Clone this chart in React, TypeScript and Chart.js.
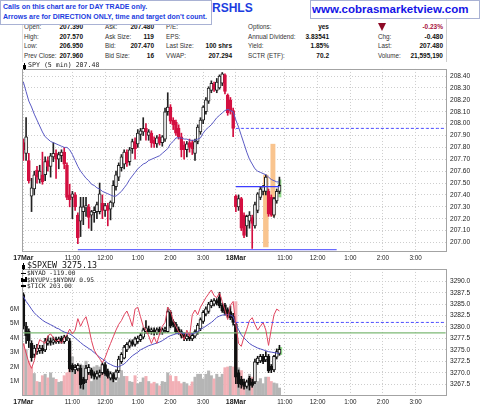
import React, { useEffect, useRef } from 'react';
import { Chart, registerables } from 'chart.js';

Chart.register(...registerables);

const SANS = '"Liberation Sans", Arial, Helvetica, sans-serif';
const MONO = '"DejaVu Sans Mono", "Liberation Mono", monospace';

// ---------- time axis (two sessions of 78 five-minute bars) ----------
const SESSION_BARS = 78;
const SLOT_COUNT = 156;
const SLOT_LABELS = Array.from({ length: SLOT_COUNT }, (_, i) => `${i < SESSION_BARS ? '17Mar' : '18Mar'} bar ${i % SESSION_BARS}`);
const TICK_INDEX = [0, 18, 30, 42, 54, 66, 78, 96, 108, 120, 132, 144];
const TICK_TEXT = ['17Mar', '11:00', '12:00', '1:00', '2:00', '3:00', '18Mar', '11:00', '12:00', '1:00', '2:00', '3:00'];
const DATE_TICK_INDEX = [0, 78];

// ---------- SPY 5 min ----------
const SPY_OPEN = [207.84,207.75,207.69,207.39,207.45,207.61,207.53,207.57,207.57,207.69,
207.64,207.72,207.75,207.70,207.73,207.76,207.65,207.40,207.38,207.40,
207.23,207.18,207.26,207.29,207.30,207.23,207.25,207.26,207.26,207.33,
207.27,207.31,207.28,207.33,207.47,207.55,207.63,207.66,207.76,207.68,
207.79,207.85,207.83,207.91,207.93,207.96,207.90,207.92,207.86,207.83,
207.89,207.84,207.87,208.10,208.14,208.03,208.01,207.96,207.89,207.82,
207.78,207.84,207.84,207.75,207.85,207.93,208.03,208.10,208.19,208.28,
208.33,208.28,208.30,208.34,208.41,208.24,208.20,208.11,207.39,207.30,
207.37,207.23,207.14,207.18,207.21,207.14,207.27,207.38,207.43,207.43,
207.43,207.38,207.23,207.35,207.43];
const SPY_HIGH = [207.87,208.05,207.75,207.54,207.60,207.64,207.65,207.76,207.72,207.72,
207.75,207.84,207.78,207.76,207.78,207.80,207.67,207.49,207.43,207.42,
207.25,207.38,207.38,207.38,207.32,207.27,207.30,207.34,207.50,207.40,
207.33,207.33,207.35,207.52,207.60,207.67,207.74,207.78,207.78,207.80,
207.87,207.88,207.95,207.96,208.05,208.00,207.95,207.94,207.89,207.90,
207.91,207.90,208.13,208.26,208.16,208.05,208.03,207.99,207.92,207.85,
207.85,207.87,207.86,207.87,207.99,208.05,208.15,208.22,208.31,208.36,
208.35,208.38,208.41,208.43,208.42,208.25,208.22,208.13,207.40,207.40,
207.38,207.25,207.23,207.26,207.23,207.34,207.42,207.47,207.48,207.57,
207.45,207.40,207.38,207.45,207.55];
const SPY_LOW = [207.69,207.69,207.50,207.26,207.40,207.50,207.50,207.49,207.52,207.60,
207.55,207.68,207.54,207.62,207.68,207.62,207.36,207.30,207.20,207.27,
206.99,207.05,207.15,207.22,207.12,207.10,207.17,207.20,207.24,207.20,
207.22,207.14,207.19,207.30,207.44,207.52,207.60,207.62,207.64,207.65,
207.75,207.70,207.80,207.86,207.90,207.86,207.86,207.80,207.80,207.80,
207.82,207.81,207.85,208.07,208.00,207.95,207.90,207.87,207.72,207.70,
207.72,207.76,207.74,207.69,207.83,207.91,208.00,208.08,208.17,208.26,
208.27,208.26,208.29,208.32,208.25,208.07,208.08,207.89,207.26,207.27,
207.10,207.04,207.05,207.12,206.95,207.12,207.25,207.36,207.40,207.40,
207.22,207.22,207.21,207.33,207.41];
const SPY_CLOSE = [207.78,207.89,207.52,207.46,207.57,207.55,207.60,207.51,207.68,207.64,
207.73,207.75,207.70,207.74,207.76,207.66,207.38,207.36,207.41,207.30,
207.04,207.30,207.30,207.31,207.21,207.26,207.27,207.32,207.41,207.27,
207.31,207.27,207.34,207.48,207.57,207.65,207.72,207.76,207.67,207.78,
207.85,207.79,207.92,207.94,207.96,207.93,207.93,207.84,207.83,207.88,
207.84,207.89,208.10,208.14,208.02,207.99,207.92,207.89,207.78,207.78,
207.83,207.80,207.79,207.85,207.97,208.03,208.14,208.20,208.30,208.34,
208.29,208.35,208.40,208.42,208.27,208.09,208.11,207.96,207.30,207.37,
207.12,207.06,207.22,207.23,207.16,207.32,207.41,207.45,207.47,207.55,
207.24,207.23,207.37,207.43,207.48];
const SPY_MA = [208.35,208.27,208.19,208.14,208.08,208.03,207.98,207.93,207.89,207.87,
207.85,207.84,207.83,207.82,207.81,207.80,207.80,207.78,207.74,207.69,
207.64,207.60,207.57,207.54,207.52,207.49,207.48,207.46,207.45,207.43,
207.42,207.41,207.40,207.39,207.39,207.41,207.43,207.46,207.49,207.53,
207.56,207.59,207.62,207.64,207.66,207.67,207.69,207.70,207.71,207.72,
207.73,207.75,207.77,207.79,207.83,207.85,207.88,207.88,207.88,207.87,
207.87,207.86,207.86,207.86,207.87,207.88,207.92,207.95,207.97,207.99,
208.02,208.05,208.07,208.09,208.11,208.12,208.11,208.10,208.03,207.97,
207.90,207.83,207.76,207.70,207.66,207.62,207.60,207.59,207.58,207.57,
207.55,207.53,207.52,207.51,207.51];
const SPY_TICKS = [207.0,207.1,207.2,207.3,207.4,207.5,207.6,207.7,207.8,207.9,208.0,208.1,208.2,208.3,208.4];
const SPY_MIN = 206.92;
const SPY_MAX = 208.46;
const SPY_PREV_CLOSE = 207.96;
const SPY_RESIST = 207.47;
const SPY_SUPPORT = 206.94;
const SPY_ORANGE_BOXES = [
  { from: 88, to: 90, high: 207.57, low: 206.96 },
  { from: 90.7, to: 92.5, high: 207.83, low: 207.22 },
];
const SPY_GREEN_BOXES = [{ from: 93.6, to: 94.7, high: 207.53, low: 207.38 }];

// ---------- lower panel ----------
const SPXEW_OPEN = [3287.1,3280.2,3279.1,3276.4,3274.0,3274.6,3274.8,3275.4,3275.0,3276.4,
3277.0,3276.6,3277.4,3276.8,3277.6,3276.8,3277.4,3277.0,3271.6,3270.6,
3270.8,3271.0,3268.6,3268.4,3270.0,3270.6,3269.8,3269.0,3269.4,3270.0,
3271.8,3270.4,3268.8,3269.6,3268.8,3270.4,3272.4,3273.2,3275.0,3275.8,
3276.8,3276.2,3276.8,3277.2,3277.8,3279.0,3279.6,3279.0,3279.4,3278.8,
3279.6,3278.8,3279.2,3279.0,3283.2,3281.2,3280.6,3279.6,3279.0,3278.2,
3277.4,3278.0,3277.4,3278.0,3278.8,3279.6,3281.2,3282.8,3283.4,3284.6,
3285.0,3285.8,3286.6,3284.8,3284.8,3283.8,3283.4,3282.4,3280.6,3270.0,
3268.6,3268.0,3267.0,3268.8,3268.0,3268.0,3272.2,3272.6,3273.6,3272.8,
3273.6,3271.4,3270.6,3273.4,3274.2];
const SPXEW_HIGH = [3287.5,3281.0,3279.6,3277.0,3276.0,3276.2,3276.0,3276.0,3277.5,3278.0,
3277.6,3277.8,3277.8,3277.8,3278.0,3278.2,3278.2,3277.5,3272.0,3271.8,
3272.0,3271.6,3269.0,3271.6,3271.8,3271.0,3270.2,3270.4,3270.6,3272.2,
3272.2,3270.8,3270.2,3270.0,3270.6,3273.6,3274.4,3276.0,3276.6,3277.2,
3277.2,3277.8,3278.0,3278.6,3279.8,3281.4,3280.2,3279.8,3279.8,3279.8,
3280.0,3279.8,3280.0,3284.2,3283.6,3281.6,3281.0,3280.0,3279.4,3278.8,
3278.4,3278.4,3278.6,3279.4,3280.8,3282.0,3283.6,3284.4,3285.4,3286.0,
3286.2,3286.2,3287.6,3285.2,3285.2,3284.2,3284.6,3283.0,3281.0,3270.6,
3269.2,3268.6,3268.4,3269.2,3268.6,3273.0,3273.6,3274.0,3274.0,3274.6,
3274.0,3271.8,3273.8,3275.2,3276.0];
const SPXEW_LOW = [3279.6,3276.4,3275.5,3272.5,3273.3,3274.0,3274.2,3274.2,3274.6,3276.0,
3276.0,3276.2,3276.4,3276.4,3276.4,3276.4,3277.0,3270.2,3270.2,3269.8,
3270.4,3266.6,3266.4,3267.8,3269.6,3268.8,3268.6,3268.6,3269.0,3269.6,
3269.4,3268.8,3268.4,3268.0,3268.4,3270.0,3272.0,3273.0,3274.6,3275.4,
3275.8,3275.8,3276.4,3276.8,3277.4,3278.6,3278.6,3278.4,3278.2,3278.4,
3278.4,3278.4,3278.8,3278.8,3279.8,3280.0,3278.6,3278.4,3277.6,3277.0,
3277.0,3277.0,3277.0,3277.6,3278.4,3279.2,3280.8,3282.4,3283.0,3284.2,
3284.6,3284.8,3284.2,3283.2,3282.6,3282.0,3281.6,3280.4,3267.6,3266.8,
3266.6,3266.4,3266.6,3266.2,3266.8,3267.6,3271.8,3272.2,3272.0,3272.4,
3270.0,3270.0,3270.2,3273.0,3273.8];
const SPXEW_CLOSE = [3280.2,3278.1,3277.0,3273.3,3275.4,3275.4,3275.4,3274.8,3277.0,3277.0,
3276.6,3277.2,3276.8,3277.4,3276.8,3277.8,3277.8,3270.8,3270.6,3271.2,
3271.6,3267.4,3267.6,3271.0,3271.2,3269.4,3269.2,3269.8,3270.0,3271.8,
3269.8,3269.2,3269.8,3268.6,3270.2,3273.0,3274.0,3275.6,3276.2,3276.8,
3276.2,3277.4,3277.6,3278.2,3279.4,3279.8,3279.0,3279.4,3278.8,3279.4,
3278.8,3279.4,3279.6,3283.4,3280.2,3280.4,3279.0,3278.8,3278.0,3277.6,
3278.0,3277.4,3278.2,3279.0,3280.4,3281.6,3283.2,3284.0,3285.0,3285.6,
3285.8,3285.2,3284.6,3283.6,3283.0,3282.4,3282.0,3281.0,3269.0,3267.6,
3267.4,3267.0,3268.0,3267.2,3267.2,3272.4,3273.2,3273.6,3272.4,3273.6,
3270.4,3270.6,3273.6,3274.6,3275.1];
const SPXEW_MA = [3286.7,3285.6,3284.8,3283.9,3283.1,3282.5,3282.0,3281.5,3281.1,3280.8,
3280.5,3280.2,3279.8,3279.6,3279.2,3278.9,3278.7,3278.5,3278.1,3277.6,
3277.1,3276.6,3276.1,3275.7,3275.3,3274.9,3274.4,3273.9,3273.4,3273.0,
3272.6,3272.1,3271.8,3271.5,3271.3,3271.3,3271.6,3271.9,3272.5,3273.1,
3273.7,3274.1,3274.5,3275.0,3275.3,3275.6,3275.9,3276.1,3276.3,3276.5,
3276.7,3277.0,3277.4,3277.8,3278.1,3278.3,3278.5,3278.6,3278.7,3278.6,
3278.5,3278.5,3278.5,3278.7,3279.0,3279.5,3279.8,3280.2,3280.6,3281.0,
3281.5,3282.1,3282.4,3282.6,3282.7,3282.7,3282.6,3282.3,3280.6,3279.4,
3278.3,3277.6,3277.0,3276.4,3276.0,3275.7,3275.4,3275.2,3275.0,3274.8,
3274.6,3274.5,3274.4,3274.3,3274.2];
const NYAD = [-459,-559,-659,-719,-639,-509,-419,-439,-459,-379,
-359,-399,-439,-419,-459,-399,-369,-309,-359,-319,
-199,-279,-219,-179,-289,-429,-529,-579,-619,-659,
-609,-529,-459,-389,-319,-259,-219,-159,-119,-189,
-279,-99,-79,-179,-279,-319,-379,-459,-389,-459,
-359,-279,-239,-79,-119,-219,-279,-339,-359,-419,
-319,-389,-159,-109,-159,-79,-29,21,61,101,
41,21,71,-19,-109,-209,-59,-19,-259,-459,
-489,-389,-309,-219,-189,-259,-319,-279,-239,-319,
-479,-309,-159,-99,-119];
const VOLUME_M = [3.6,3.2,2.4,2.0,1.55,1.0,0.95,1.4,1.5,1.25,
1.6,1.25,1.15,0.95,1.0,1.4,1.6,2.95,2.7,1.5,
2.0,2.2,2.1,2.4,1.6,1.0,2.0,2.1,2.0,2.2,
1.4,1.6,1.25,1.5,0.95,1.25,1.75,1.35,1.35,1.0,
0.95,1.4,0.85,0.95,1.25,1.35,1.0,0.85,0.95,0.85,
0.7,1.0,0.95,1.6,1.4,1.0,1.35,1.0,0.85,0.95,
0.85,0.7,0.97,1.3,1.5,1.5,1.18,1.5,1.73,1.4,
1.18,1.5,1.3,1.5,1.95,2.0,2.05,2.0,6.5,1.95,
1.75,1.0,0.95,1.5,1.3,0.97,1.0,1.2,0.85,1.3,
1.3,1.0,0.9,0.85,0.55];
const SPXEW_TICKS = [3267.5,3270.0,3272.5,3275.0,3277.5,3280.0,3282.5,3285.0,3287.5,3290.0];
const SPXEW_MIN = 3264.9;
const SPXEW_MAX = 3292.7;
const VOLUME_TICKS = [1, 2, 3, 4, 5, 6];
const VOLUME_MAX = 8.75;
const NYAD_MIN = -1009;
const NYAD_MAX = 321;
const SPXEW_PREV_CLOSE = 3281.0;
const SPXEW_LEVEL = 3278.7;
const SPXEW_GREEN_BOXES = [{ from: 93.6, to: 95, high: 3275.6, low: 3273.9 }];

// ---------- header ----------
const QUOTE_LABELS = [
  ['Open:', 'High:', 'Low:', 'Prev Close:'],
  ['Ask:', 'Ask Size:', 'Bid:', 'Bid Size:'],
  ['P/E:', 'EPS:', 'Last Size:', 'VWAP:'],
  ['Options:', 'Annual Dividend:', 'Yield:', 'SCTR (ETF):'],
  ['', 'Chg:', 'Last:', 'Volume:'],
];
const QUOTE_VALUES = [
  ['207.390', '207.570', '206.950', '207.960'],
  ['207.480', '119', '207.470', '16'],
  ['', '', '100 shrs', '207.294'],
  ['yes', '3.83541', '1.85%', '70.2'],
  ['-0.23%', '-0.480', '207.480', '21,595,190'],
];
const LOWER_LEGEND = ['$SPXEW 3275.13', '$NYAD -119.00', '$NYUPV:$NYDNV 0.95', '$TICK 203.00'];

// layout constants
const COL_LABEL_X = [24, 105, 166, 248, 378];
const COL_VALUE_RIGHT = [83, 154, 232, 329, 443];
const ROW_Y = [27, 36.5, 46, 55.8];

const segment = (value: number, from: number, to: number) =>
  Array.from({ length: SLOT_COUNT }, (_, i) => (i >= from && i <= to ? value : null));

function candleSets(open: number[], high: number[], low: number[], close: number[], yAxisID: string,
  upLine: string, downFill: string, downLine: string, order: number) {
  const up = (i: any) => close[i ?? 0] >= open[i ?? 0];
  return [
    {
      type: 'bar', label: 'body', yAxisID, xAxisID: 'x', grouped: false, order,
      barThickness: 3, borderWidth: 1, borderSkipped: false,
      data: open.map((o, i) => [Math.min(o, close[i]), Math.max(o, close[i])]),
      backgroundColor: (c: any) => (up(c.dataIndex) ? '#ffffff' : downFill),
      borderColor: (c: any) => (up(c.dataIndex) ? upLine : downLine),
    },
    {
      type: 'bar', label: 'wick', yAxisID, xAxisID: 'x', grouped: false, order: order + 1,
      barThickness: 1, borderWidth: 0,
      data: low.map((l, i) => [l, high[i]]),
      backgroundColor: (c: any) => (up(c.dataIndex) ? upLine : downLine),
    },
  ];
}

function timeAxis() {
  return {
    type: 'category', offset: true,
    grid: { color: '#cdcdcd', offset: false, drawTicks: false, lineWidth: 1 },
    border: { display: false, dash: [1, 2] },
    ticks: {
      autoSkip: false, maxRotation: 0, minRotation: 0, padding: 2, color: '#222',
      font: (c: any) => (c.tick && DATE_TICK_INDEX.includes(c.tick.value)
        ? { family: SANS, size: 7, weight: 'bold' } : { family: SANS, size: 6.3 }),
      callback: (v: any) => { const k = TICK_INDEX.indexOf(Number(v)); return k >= 0 ? TICK_TEXT[k] : ''; },
    },
    afterBuildTicks: (s: any) => { s.ticks = TICK_INDEX.map((v) => ({ value: v })); },
    afterFit: (s: any) => { s.height = 10; },
  };
}

function priceAxis(min: number, max: number, ticks: number[], digits: number) {
  return {
    position: 'right', min, max,
    grid: { color: '#cdcdcd', drawTicks: false },
    border: { display: false, dash: [1, 2] },
    ticks: { padding: 3, color: '#222', font: { family: SANS, size: 6.6 }, callback: (v: any) => Number(v).toFixed(digits) },
    afterBuildTicks: (s: any) => { s.ticks = ticks.map((v) => ({ value: v })); },
    afterFit: (s: any) => { s.width = 33; },
  };
}

const framePlugin = {
  id: 'frame',
  afterDraw(chart: any) {
    const { ctx, chartArea: a } = chart;
    ctx.save();
    ctx.strokeStyle = '#a3a3a3';
    ctx.lineWidth = 1;
    ctx.strokeRect(Math.round(a.left) + 0.5, Math.round(a.top) + 0.5, Math.round(a.right - a.left) - 1, Math.round(a.bottom - a.top) - 1);
    ctx.restore();
  },
};

function boxPlugin(id: string, yId: string, groups: { boxes: any[]; color: string }[]) {
  return {
    id,
    beforeDatasetsDraw(chart: any) {
      const xs = chart.scales.x;
      const ys = chart.scales[yId];
      const ctx = chart.ctx;
      ctx.save();
      groups.forEach((g) => {
        ctx.fillStyle = g.color;
        g.boxes.forEach((b) => {
          const x1 = xs.getPixelForValue(b.from);
          const x2 = xs.getPixelForValue(b.to);
          const y1 = ys.getPixelForValue(b.high);
          const y2 = ys.getPixelForValue(b.low);
          ctx.fillRect(x1, y1, x2 - x1, y2 - y1);
        });
      });
      ctx.restore();
    },
  };
}

const lineSet = (data: any[], color: string, yAxisID: string, order: number, width = 1, dash: number[] = []) => ({
  type: 'line', data, yAxisID, xAxisID: 'x', order, borderColor: color, borderWidth: width, borderDash: dash,
  pointRadius: 0, tension: 0, spanGaps: false, fill: false,
});

function Txt(props: any) {
  const { x, y, text, size = 6.5, bold = false, color = '#333', align = 'left', family = SANS } = props;
  const style: any = {
    position: 'absolute', top: y - size * 0.6, fontSize: size, lineHeight: `${size * 1.2}px`,
    fontWeight: bold ? 700 : 400, color, fontFamily: family, whiteSpace: 'pre',
  };
  if (align === 'right') style.right = 480 - x; else style.left = x;
  return <div style={style}>{text}</div>;
}

export default function App() {
  const topRef = useRef<HTMLCanvasElement | null>(null);
  const botRef = useRef<HTMLCanvasElement | null>(null);

  useEffect(() => {
    const prevUp = (i: number) => (i === 0 ? SPY_CLOSE[0] >= SPY_OPEN[0] : SPY_CLOSE[i] >= SPY_CLOSE[i - 1]);

    const top = new Chart(topRef.current as HTMLCanvasElement, {
      type: 'bar',
      data: {
        labels: SLOT_LABELS,
        datasets: [
          lineSet(segment(SPY_PREV_CLOSE, 78, SLOT_COUNT - 1), '#4646ff', 'y', 0, 1, [3, 2]),
          lineSet(segment(SPY_RESIST, 78, 94), '#3c3cff', 'y', 0, 1.2),
          lineSet(segment(SPY_SUPPORT, 20, 115), '#6a6aff', 'y', 0, 1.4),
          lineSet(SPY_MA, '#5a5ac4', 'y', 1, 1),
          ...candleSets(SPY_OPEN, SPY_HIGH, SPY_LOW, SPY_CLOSE, 'y', '#222222', '#d40f40', '#d40f40', 2),
        ] as any,
      },
      options: {
        animation: false, responsive: false, devicePixelRatio: 1, events: [],
        layout: { padding: { left: 22, right: 0, top: 0, bottom: 0 } },
        plugins: { legend: { display: false }, tooltip: { enabled: false } },
        scales: {
          x: timeAxis(),
          y: priceAxis(SPY_MIN, SPY_MAX, SPY_TICKS, 2),
        } as any,
      },
      plugins: [framePlugin, boxPlugin('spyBoxes', 'y', [
        { boxes: SPY_ORANGE_BOXES, color: '#f9c48e' },
        { boxes: SPY_GREEN_BOXES, color: '#92dc8c' },
      ])],
    });

    const bot = new Chart(botRef.current as HTMLCanvasElement, {
      type: 'bar',
      data: {
        labels: SLOT_LABELS,
        datasets: [
          lineSet(segment(SPXEW_PREV_CLOSE, 78, SLOT_COUNT - 1), '#4646ff', 'yPrice', 0, 1, [3, 2]),
          lineSet(NYAD, '#e0445e', 'yAD', 0, 1),
          lineSet(SPXEW_MA, '#5050c0', 'yPrice', 1, 1),
          lineSet(segment(SPXEW_LEVEL, 0, SLOT_COUNT - 1), '#7cb874', 'yPrice', 2, 1.3),
          ...candleSets(SPXEW_OPEN, SPXEW_HIGH, SPXEW_LOW, SPXEW_CLOSE, 'yPrice', '#111111', '#111111', '#111111', 3),
          {
            type: 'bar', data: VOLUME_M, yAxisID: 'yVol', xAxisID: 'x', grouped: false, order: 6,
            barThickness: 2.4, borderWidth: 0,
            backgroundColor: (c: any) => (prevUp(c.dataIndex ?? 0) ? '#b5b5b5' : '#f2b0b6'),
          },
        ] as any,
      },
      options: {
        animation: false, responsive: false, devicePixelRatio: 1, events: [],
        layout: { padding: 0 },
        plugins: { legend: { display: false }, tooltip: { enabled: false } },
        scales: {
          x: timeAxis(),
          yPrice: priceAxis(SPXEW_MIN, SPXEW_MAX, SPXEW_TICKS, 1),
          yVol: {
            position: 'left', min: 0, max: VOLUME_MAX,
            grid: { display: false, drawTicks: false }, border: { display: false },
            ticks: { padding: 3, color: '#222', font: { family: SANS, size: 6.4 }, callback: (v: any) => `${v}M` },
            afterBuildTicks: (s: any) => { s.ticks = VOLUME_TICKS.map((v) => ({ value: v })); },
            afterFit: (s: any) => { s.width = 22; },
          },
          yAD: { display: false, min: NYAD_MIN, max: NYAD_MAX },
        } as any,
      },
      plugins: [framePlugin, boxPlugin('spxBoxes', 'yPrice', [{ boxes: SPXEW_GREEN_BOXES, color: '#92dc8c' }])],
    });

    return () => { top.destroy(); bot.destroy(); };
  }, []);

  const blue = '#1c3de0';
  return (
    <div style={{ position: 'absolute', left: 0, top: 0, width: 480, height: 406, background: '#fff', overflow: 'hidden', fontFamily: SANS }}>
      {/* header panel */}
      <div style={{ position: 'absolute', left: 22, top: 19, width: 425, height: 43, borderRight: '1px solid #cfcfcf', borderLeft: '1px solid #e0e0e0', boxSizing: 'border-box' }} />
      <Txt x={212} y={8} text="RSHLS" size={12} bold color={blue} />
      {QUOTE_LABELS.map((col, c) => col.map((t, r) => (t ? <Txt key={`l${c}${r}`} x={COL_LABEL_X[c]} y={ROW_Y[r]} text={t} size={6.3} color="#333" /> : null)))}
      {QUOTE_VALUES.map((col, c) => col.map((t, r) => (t ? (
        <Txt key={`v${c}${r}`} x={COL_VALUE_RIGHT[c]} y={ROW_Y[r]} text={t} size={6.5} bold align="right"
          color={c === 4 && r === 0 ? '#a8123c' : '#111'} />
      ) : null)))}
      <div style={{ position: 'absolute', left: 378, top: 23, width: 0, height: 0, borderLeft: '4.5px solid transparent', borderRight: '4.5px solid transparent', borderTop: '8px solid #8e0a26' }} />
      {/* call box */}
      <div style={{ position: 'absolute', left: 0, top: 0, width: 212, height: 25, border: '1px solid #a9b2d4', background: '#fff', boxSizing: 'border-box' }}>
        <Txt x={2} y={6.5} text="Calls on this chart are for DAY TRADE only." size={7} bold color={blue} />
        <Txt x={2} y={16.2} text="Arrows are for DIRECTION ONLY, time and target don't count." size={7} bold color={blue} />
      </div>
      {/* url box */}
      <div style={{ position: 'absolute', left: 310, top: 0, width: 170, height: 19, border: '1px solid #a9b2d4', background: '#fff', boxSizing: 'border-box' }}>
        <Txt x={1} y={9} text="www.cobrasmarketview.com" size={11.5} bold color="#1414e6" />
      </div>

      <canvas ref={topRef} width={480} height={200} style={{ position: 'absolute', left: 0, top: 62 }} />
      <canvas ref={botRef} width={480} height={144} style={{ position: 'absolute', left: 0, top: 262 }} />

      {/* top legend */}
      <div style={{ position: 'absolute', left: 24, top: 63, width: 1, height: 7, background: '#000' }} />
      <div style={{ position: 'absolute', left: 23, top: 64.5, width: 3, height: 4, background: '#000' }} />
      <Txt x={28} y={66} text="SPY (5 min) 207.48" size={6.6} color="#222" family={MONO} />

      {/* lower legend */}
      <div style={{ position: 'absolute', left: 23, top: 263, width: 1, height: 7, background: '#000' }} />
      <div style={{ position: 'absolute', left: 22, top: 264.5, width: 3, height: 4, background: '#000' }} />
      <Txt x={27} y={266.3} text={LOWER_LEGEND[0]} size={8.3} color="#111" family={MONO} />
      <div style={{ position: 'absolute', left: 21, top: 272.5, width: 5, height: 1.5, background: '#000' }} />
      <Txt x={27} y={273} text={LOWER_LEGEND[1]} size={6.2} color="#222" family={MONO} />
      <div style={{ position: 'absolute', left: 21, top: 277.5, width: 1.5, height: 4, background: '#000' }} />
      <div style={{ position: 'absolute', left: 23, top: 278.5, width: 1.5, height: 3, background: '#000' }} />
      <div style={{ position: 'absolute', left: 25, top: 277, width: 1.5, height: 4.5, background: '#000' }} />
      <Txt x={27} y={279.5} text={LOWER_LEGEND[2]} size={6.2} color="#222" family={MONO} />
      <div style={{ position: 'absolute', left: 21, top: 285, width: 5, height: 1.5, background: '#000' }} />
      <Txt x={27} y={285.8} text={LOWER_LEGEND[3]} size={6.2} color="#222" family={MONO} />
    </div>
  );
}
